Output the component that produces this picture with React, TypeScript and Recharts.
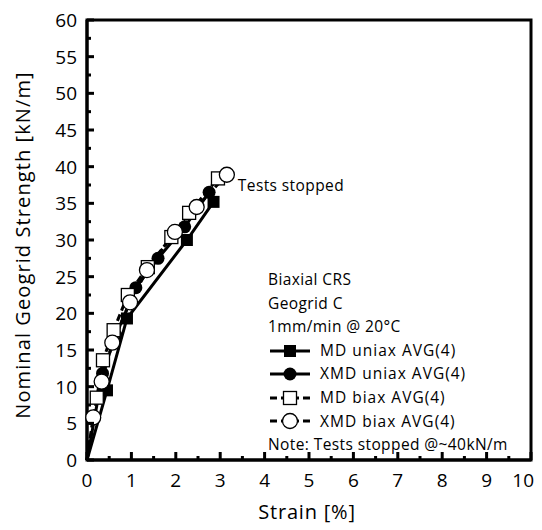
import React from 'react';
import { LineChart, Line, XAxis, YAxis, ReferenceArea, ReferenceDot, Legend } from 'recharts';

// axis ticks
const strainTicks = [0, 0.5, 1, 1.5, 2, 2.5, 3, 3.5, 4, 4.5, 5, 5.5, 6, 6.5, 7, 7.5, 8, 8.5, 9, 9.5, 10];
const strengthTicks = [0, 2.5, 5, 7.5, 10, 12.5, 15, 17.5, 20, 22.5, 25, 27.5, 30, 32.5, 35, 37.5, 40, 42.5, 45, 47.5, 50, 52.5, 55, 57.5, 60];

// series (strain %, strength kN/m)
const mdUniaxStrain = [0, 0.45, 0.9, 2.25, 2.85];
const mdUniaxStrength = [0, 9.5, 19.3, 30, 35.2];

const xmdUniaxStrain = [0, 0.35, 0.65, 1.1, 1.6, 2.2, 2.75];
const xmdUniaxStrength = [0, 11.8, 17, 23.5, 27.5, 31.8, 36.5];

const mdBiaxStrain = [0, 0.22, 0.36, 0.6, 0.92, 1.37, 1.9, 2.3, 2.95];
const mdBiaxStrength = [0, 8.5, 13.6, 17.7, 22.5, 26.3, 30.4, 33.7, 38.4];

const xmdBiaxStrain = [0, 0.14, 0.33, 0.57, 0.97, 1.35, 1.98, 2.47, 3.15];
const xmdBiaxStrength = [0, 5.8, 10.7, 16, 21.5, 25.9, 31.1, 34.5, 38.9];

const legendHeader = ['Biaxial CRS', 'Geogrid C', '1mm/min @ 20°C'];
const legendNote = 'Note: Tests stopped @~40kN/m';

const toPoints = (xs: number[], ys: number[]) => xs.map((x, i) => ({ x, y: ys[i] }));

const FONT = 'Open Sans, sans-serif';

type Marker = 'fsquare' | 'fcircle' | 'osquare' | 'ocircle';

const drawMarker = (kind: Marker, cx: number, cy: number, key?: string) => {
  if (kind === 'fsquare') return <rect key={key} x={cx - 6} y={cy - 6} width={12} height={12} fill="#000" />;
  if (kind === 'fcircle') return <circle key={key} cx={cx} cy={cy} r={6.5} fill="#000" />;
  if (kind === 'osquare')
    return <rect key={key} x={cx - 6.5} y={cy - 6.5} width={13} height={13} fill="#fff" stroke="#000" strokeWidth={1.3} />;
  return <circle key={key} cx={cx} cy={cy} r={7.5} fill="#fff" stroke="#000" strokeWidth={1.3} />;
};

const dotFor = (kind: Marker) => (props: any) => {
  const { cx, cy, index } = props;
  if (index === 0) return <g key={`d-${kind}-${index}`} />;
  return drawMarker(kind, cx, cy, `d-${kind}-${index}`);
};

const series = [
  { name: 'MD uniax AVG(4)', data: toPoints(mdUniaxStrain, mdUniaxStrength), marker: 'fsquare' as Marker, dash: undefined },
  { name: 'XMD uniax AVG(4)', data: toPoints(xmdUniaxStrain, xmdUniaxStrength), marker: 'fcircle' as Marker, dash: undefined },
  { name: 'MD biax AVG(4)', data: toPoints(mdBiaxStrain, mdBiaxStrength), marker: 'osquare' as Marker, dash: '7 4' },
  { name: 'XMD biax AVG(4)', data: toPoints(xmdBiaxStrain, xmdBiaxStrength), marker: 'ocircle' as Marker, dash: '7 4' },
];

const XTick = (props: any) => {
  const { x, y, payload, index } = props;
  const major = Number.isInteger(payload.value);
  const isLast = index === strainTicks.length - 1;
  return (
    <g>
      <line x1={x} x2={x} y1={y} y2={y - (major ? 8 : 4)} stroke="#000" strokeWidth={3} />
      {major && (
        <text
          x={isLast ? x + 3 : x}
          y={y + 27}
          textAnchor={isLast ? 'end' : 'middle'}
          fontSize={19}
          fontFamily={FONT}
          fill="#000"
        >
          {payload.value}
        </text>
      )}
    </g>
  );
};

const YTick = (props: any) => {
  const { x, y, payload } = props;
  const major = payload.value % 5 === 0;
  return (
    <g>
      <line x1={x} x2={x + (major ? 7 : 4)} y1={y} y2={y} stroke="#000" strokeWidth={3} />
      {major && (
        <text x={x - 10} y={y + 7} textAnchor="end" fontSize={19} fontFamily={FONT} fill="#000">
          {payload.value}
        </text>
      )}
    </g>
  );
};

const YLabel = (props: any) => {
  const { viewBox } = props;
  const cx = viewBox.x + 22;
  const cy = viewBox.y + viewBox.height / 2 + 5;
  return (
    <text
      x={cx}
      y={cy}
      transform={`rotate(-90 ${cx} ${cy})`}
      textAnchor="middle"
      dominantBaseline="central"
      fontSize={20}
      letterSpacing={1.1}
      fontFamily={FONT}
      fill="#000"
    >
      Nominal Geogrid Strength [kN/m]
    </text>
  );
};

const XLabel = (props: any) => {
  const { viewBox } = props;
  return (
    <text
      x={viewBox.x + viewBox.width / 2 - 2}
      y={viewBox.y + 59}
      textAnchor="middle"
      fontSize={20}
      letterSpacing={0.8}
      fontFamily={FONT}
      fill="#000"
    >
      Strain [%]
    </text>
  );
};

const LegendBox = () => (
  <div style={{ fontFamily: FONT, fontSize: 15.5, color: '#000', lineHeight: '23.6px', letterSpacing: 0.4 }}>
    {legendHeader.map((t) => (
      <div key={t}>{t}</div>
    ))}
    {series.map((s) => (
      <div key={s.name} style={{ display: 'flex', alignItems: 'center', height: 23.6 }}>
        <svg width={44} height={20} style={{ marginRight: 8 }}>
          <line x1={2} x2={42} y1={10} y2={10} stroke="#000" strokeWidth={3} strokeDasharray={s.dash} />
          {drawMarker(s.marker, 22, 10)}
        </svg>
        <span style={{ letterSpacing: 1 }}>{s.name}</span>
      </div>
    ))}
    <div>{legendNote}</div>
  </div>
);

const last = series[3].data[series[3].data.length - 1];

export default function App() {
  return (
    <div style={{ position: 'absolute', left: 0, top: 0, background: '#fff' }}>
      <LineChart width={542} height={530} margin={{ top: 20, right: 11, left: 0, bottom: 0 }}>
        <XAxis
          type="number"
          dataKey="x"
          domain={[0, 10]}
          ticks={strainTicks}
          interval={0}
          tickSize={0}
          tickMargin={0}
          tick={<XTick />}
          axisLine={{ stroke: '#000', strokeWidth: 3 }}
          height={70}
          label={<XLabel />}
        />
        <YAxis
          type="number"
          dataKey="y"
          domain={[0, 60]}
          ticks={strengthTicks}
          interval={0}
          tickSize={0}
          tickMargin={0}
          tick={<YTick />}
          axisLine={{ stroke: '#000', strokeWidth: 3 }}
          width={87}
          label={<YLabel />}
        />
        <ReferenceArea x1={0} x2={10} y1={0} y2={60} fill="none" stroke="#000" strokeWidth={3} ifOverflow="visible" />
        <Legend
          layout="vertical"
          align="center"
          verticalAlign="middle"
          content={<LegendBox />}
          wrapperStyle={{ position: 'absolute', left: 268, top: 268, width: 270 }}
        />
        {series.map((s) => (
          <Line
            key={s.name}
            type="linear"
            data={s.data}
            dataKey="y"
            name={s.name}
            stroke="#000"
            strokeWidth={3}
            strokeDasharray={s.dash}
            dot={dotFor(s.marker)}
            activeDot={false}
            isAnimationActive={false}
          />
        ))}
        <ReferenceDot
          x={last.x}
          y={last.y}
          r={0}
          fill="none"
          stroke="none"
          label={(p: any) => (
            <text x={p.viewBox.x + 11} y={p.viewBox.y + 16} fontSize={15.5} letterSpacing={0.4} fontFamily={FONT} fill="#000">
              Tests stopped
            </text>
          )}
        />
      </LineChart>
    </div>
  );
}
